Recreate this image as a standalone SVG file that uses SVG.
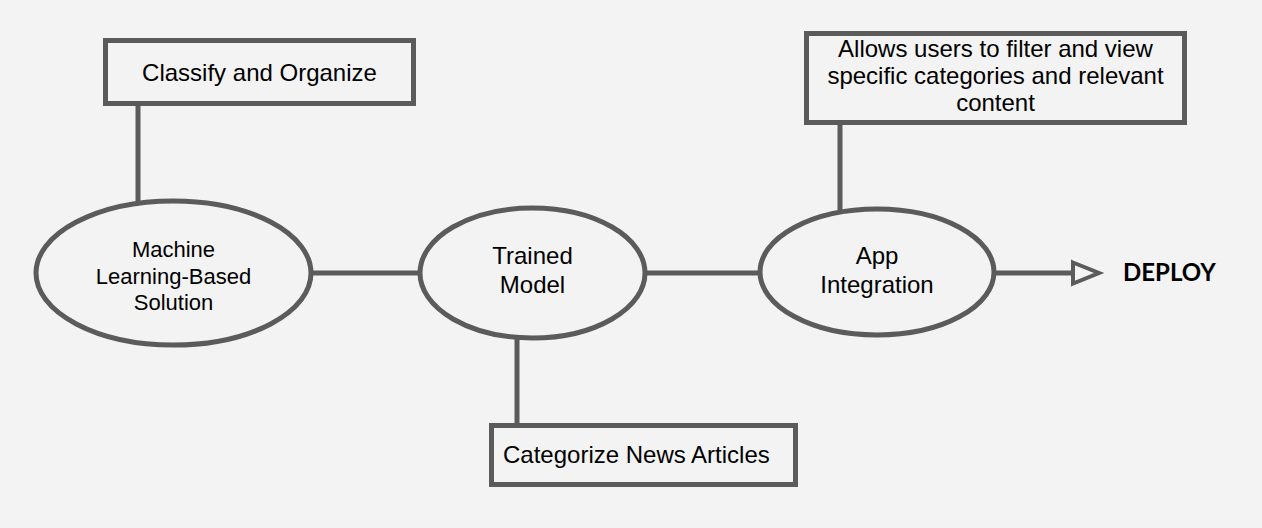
<svg xmlns="http://www.w3.org/2000/svg" width="1262" height="528" viewBox="0 0 1262 528">
<style>
.shape{fill:#f3f3f3;stroke:#5b5b5b;stroke-width:5}
.conn{fill:none;stroke:#5b5b5b;stroke-width:5}
.t{font-family:"Liberation Sans",Arial,sans-serif;fill:#000;text-anchor:middle}
.s22{font-size:22px}
.s24{font-size:24px}
</style>
<defs>
<marker id="openArrow" markerUnits="userSpaceOnUse" markerWidth="40" markerHeight="40" refX="4" refY="20" orient="auto" viewBox="0 0 40 40">
<polygon points="4,9.5 30,20 4,30.5" fill="#f3f3f3" stroke="#5b5b5b" stroke-width="4"/>
</marker>
</defs>
<rect width="1262" height="528" fill="#f3f3f3"/>
<g id="connectors">
<line class="conn" x1="138" y1="103" x2="138" y2="202"/>
<line class="conn" x1="840" y1="123" x2="840" y2="210"/>
<line class="conn" x1="517" y1="337" x2="517" y2="426"/>
<line class="conn" x1="310" y1="273" x2="421" y2="273"/>
<line class="conn" x1="644" y1="273" x2="761" y2="273"/>
<line class="conn" x1="994" y1="273" x2="1073" y2="273" marker-end="url(#openArrow)"/>
</g>
<g id="classify">
<rect class="shape" x="105.5" y="40.5" width="308" height="63"/>
<text class="t s24" x="259.5" y="81">Classify and Organize</text>
</g>
<g id="ml-solution">
<ellipse class="shape" cx="173.5" cy="273" rx="137.5" ry="72"/>
<text class="t s22" x="173.5" y="257">Machine</text>
<text class="t s22" x="173.5" y="283.5">Learning-Based</text>
<text class="t s22" x="173.5" y="310">Solution</text>
</g>
<g id="trained-model">
<ellipse class="shape" cx="532.5" cy="273" rx="112.5" ry="65"/>
<text class="t s24" x="532.5" y="264">Trained</text>
<text class="t s24" x="532.5" y="293">Model</text>
</g>
<g id="categorize">
<rect class="shape" x="491.5" y="425.5" width="304" height="59"/>
<text class="t s24" x="503" y="463" style="text-anchor:start">Categorize News Articles</text>
</g>
<g id="app-integration">
<ellipse class="shape" cx="877" cy="272" rx="117" ry="63"/>
<text class="t s24" x="877" y="264">App</text>
<text class="t s24" x="877" y="293">Integration</text>
</g>
<g id="allows-users">
<rect class="shape" x="806.5" y="33.5" width="378" height="89"/>
<text class="t s24" x="995.5" y="57">Allows users to filter and view</text>
<text class="t s24" x="995.5" y="84">specific categories and relevant</text>
<text class="t s24" x="995.5" y="111">content</text>
</g>
<g id="deploy">
<text x="1123" y="281" style="font-family:Lato,'Open Sans',sans-serif;font-weight:bold;font-size:24px;fill:#000">DEPLOY</text>
</g>
</svg>
